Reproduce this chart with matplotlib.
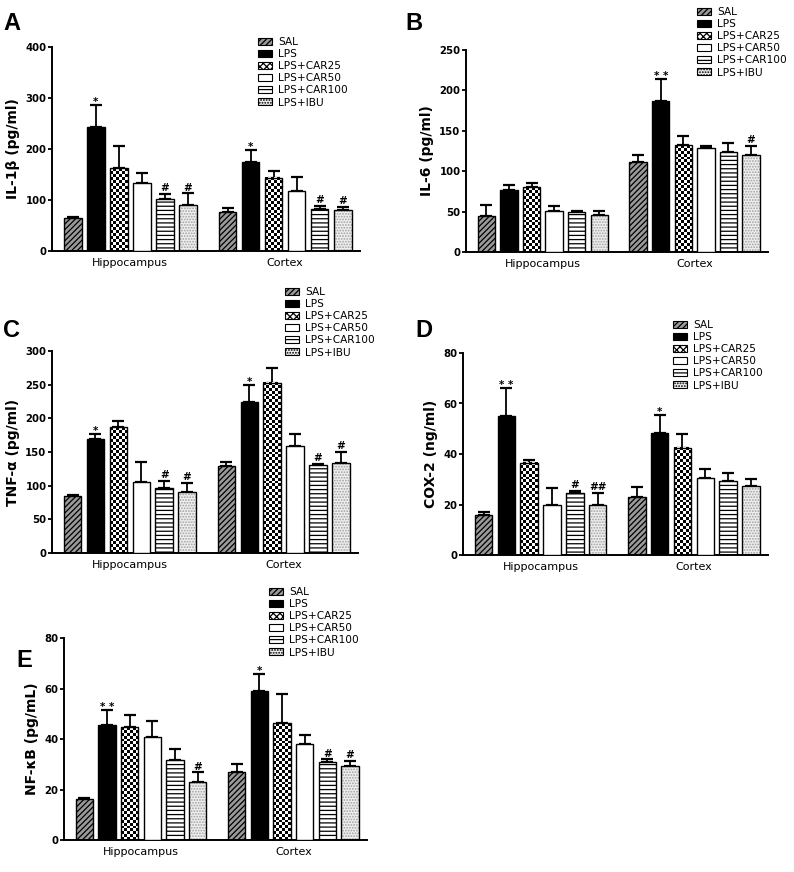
import numpy as np
import matplotlib
matplotlib.use("Agg")
import matplotlib.pyplot as plt
from matplotlib.patches import Patch

plt.rcParams['font.family'] = ['DejaVu Sans']
plt.rcParams['hatch.linewidth'] = 0.9

W, H = 794, 872

groups = ['Hippocampus', 'Cortex']
treatments = ['SAL', 'LPS', 'LPS+CAR25', 'LPS+CAR50', 'LPS+CAR100', 'LPS+IBU']

# A: IL-1beta
il1b_hip = [65, 243, 162, 133, 102, 91]
il1b_hip_err = [2, 44, 43, 19, 10, 22]
il1b_ctx = [77, 174, 144, 118, 83, 80]
il1b_ctx_err = [8, 25, 13, 27, 5, 6]
il1b_hip_sig = ['', '*', '', '', '#', '#']
il1b_ctx_sig = ['', '*', '', '', '#', '#']

# B: IL-6
il6_hip = [44, 77, 80, 51, 49, 46]
il6_hip_err = [14, 6, 6, 6, 2, 5]
il6_ctx = [111, 187, 132, 129, 124, 120]
il6_ctx_err = [9, 27, 12, 2, 11, 11]
il6_hip_sig = ['', '', '', '', '', '']
il6_ctx_sig = ['', '* *', '', '', '', '#']

# C: TNF-alpha
tnf_hip = [84, 169, 187, 106, 96, 91]
tnf_hip_err = [2, 8, 9, 29, 11, 13]
tnf_ctx = [129, 224, 253, 159, 130, 133]
tnf_ctx_err = [6, 25, 22, 18, 2, 17]
tnf_hip_sig = ['', '*', '', '', '#', '#']
tnf_ctx_sig = ['', '*', '', '', '#', '#']

# D: COX-2
cox_hip = [16, 55, 36.5, 20, 24.5, 20]
cox_hip_err = [1, 11, 1, 6.5, 1, 4.5]
cox_ctx = [23, 48.5, 42.5, 30.5, 29.5, 27.5]
cox_ctx_err = [4, 7, 5.5, 3.5, 3, 2.5]
cox_hip_sig = ['', '* *', '', '', '#', '##']
cox_ctx_sig = ['', '*', '', '', '', '']

# E: NF-kB
nfkb_hip = [16.3, 45.5, 44.7, 40.8, 31.7, 23]
nfkb_hip_err = [0.4, 6, 4.8, 6.2, 4.3, 3.8]
nfkb_ctx = [26.8, 59, 46.3, 38.2, 30.7, 29.5]
nfkb_ctx_err = [3.2, 6.7, 11.4, 3.3, 1.3, 1.8]
nfkb_hip_sig = ['', '* *', '', '', '', '#']
nfkb_ctx_sig = ['', '*', '', '', '#', '#']

styles = [
    dict(facecolor='#9a9a9a', hatch='//////', hcolor='black'),
    dict(facecolor='black', hatch=None, hcolor='black'),
    dict(facecolor='white', hatch='checker', hcolor='black'),
    dict(facecolor='white', hatch=None, hcolor='black'),
    dict(facecolor='white', hatch='----', hcolor='black'),
    dict(facecolor='#f0f0f0', hatch='......', hcolor='#a0a0a0'),
]

GROUP_OFFSET = 6.72
BAR_W = 0.765
CELL_PX = 2.9


def fig_rect(l, t, r, b):
    return [l / W, 1 - b / H, (r - l) / W, (b - t) / H]


def draw_bar(ax, x, h, st, px_per_unit, w=BAR_W):
    if st['hatch'] == 'checker':
        nrows = max(1, int(round(h * px_per_unit / CELL_PX)))
        ncols = 6
        arr = np.add.outer(np.arange(nrows), np.arange(ncols)) % 2
        ax.imshow(arr, extent=(x - w / 2, x + w / 2, 0, h), cmap='gray', vmin=0, vmax=1,
                  interpolation='nearest', aspect='auto', origin='lower', zorder=2)
        ax.bar(x, h, w, fill=False, edgecolor='black', linewidth=1.0, zorder=3)
    elif st['hatch']:
        ax.bar(x, h, w, color=st['facecolor'], edgecolor=st['hcolor'],
               hatch=st['hatch'], linewidth=0, zorder=2)
        ax.bar(x, h, w, fill=False, edgecolor='black', linewidth=1.0, zorder=3)
    else:
        ax.bar(x, h, w, color=st['facecolor'], edgecolor='black', linewidth=1.0, zorder=3)


def panel(rect, letter, letter_xy, ylabel, ymax, ystep, hip, hip_err, ctx, ctx_err,
          hip_sig, ctx_sig, leg_xy):
    ax = fig.add_axes(fig_rect(*rect))
    px_per_unit = (rect[3] - rect[1]) / ymax
    xs_hip = np.arange(len(treatments))
    xs_ctx = xs_hip + GROUP_OFFSET
    for xs, vals, errs, sigs in [(xs_hip, hip, hip_err, hip_sig), (xs_ctx, ctx, ctx_err, ctx_sig)]:
        for i, (x, v, e, s) in enumerate(zip(xs, vals, errs, sigs)):
            ax.errorbar(x, v, yerr=[[0], [e]], fmt='none', ecolor='black',
                        elinewidth=1.3, capsize=4.2, capthick=1.6, zorder=1)
            draw_bar(ax, x, v, styles[i], px_per_unit)
            if s:
                off = -1.5 if '*' in s else 0.5
                ax.annotate(s, (x, v + e), xytext=(0, off), textcoords='offset points',
                            ha='center', va='bottom', fontsize=7.5, fontweight='bold')
    ax.set_xlim(-0.9, GROUP_OFFSET + 5 + 0.75)
    ax.set_ylim(0, ymax)
    ax.set_yticks(np.arange(0, ymax + 1, ystep))
    ax.set_xticks([2.5, GROUP_OFFSET + 2.5])
    ax.set_xticklabels(groups, fontsize=8)
    ax.tick_params(axis='x', length=0, pad=5)
    ax.tick_params(axis='y', length=3, width=1.3, pad=1, labelsize=7.3)
    for lab in ax.get_yticklabels():
        lab.set_fontweight('bold')
    for sp in ['top', 'right']:
        ax.spines[sp].set_visible(False)
    for sp in ['left', 'bottom']:
        ax.spines[sp].set_linewidth(1.4)
    ax.set_ylabel(ylabel, fontsize=10, fontweight='bold', labelpad=4)
    fig.text(letter_xy[0] / W, 1 - letter_xy[1] / H, letter, fontsize=17,
             fontweight='bold', family='Liberation Sans', ha='left', va='top')
    handles = []
    for st in styles:
        if st['hatch'] == 'checker':
            handles.append(Patch(facecolor='white', edgecolor='black', hatch='xxxxx', linewidth=0.8))
        elif st['hatch']:
            handles.append(Patch(facecolor=st['facecolor'], edgecolor='black',
                                 hatch=st['hatch'], linewidth=0.8))
        else:
            handles.append(Patch(facecolor=st['facecolor'], edgecolor='black', linewidth=0.8))
    fig.legend(handles, treatments, loc='upper left',
               bbox_to_anchor=(leg_xy[0] / W, 1 - leg_xy[1] / H),
               bbox_transform=fig.transFigure, frameon=False, fontsize=7.6,
               handlelength=1.35, handleheight=0.65, handletextpad=0.55,
               labelspacing=0.2, borderpad=0, borderaxespad=0)
    return ax


fig = plt.figure(figsize=(W / 100, H / 100), dpi=100)

panel((52, 47, 360, 251), 'A', (3, 12), 'IL-1β (pg/ml)', 400, 100,
      il1b_hip, il1b_hip_err, il1b_ctx, il1b_ctx_err, il1b_hip_sig, il1b_ctx_sig, (258, 37))
panel((466, 50, 768, 252), 'B', (405, 12), 'IL-6 (pg/ml)', 250, 50,
      il6_hip, il6_hip_err, il6_ctx, il6_ctx_err, il6_hip_sig, il6_ctx_sig, (697, 7))
panel((52, 351, 358, 553), 'C', (3, 319), 'TNF-α (pg/ml)', 300, 50,
      tnf_hip, tnf_hip_err, tnf_ctx, tnf_ctx_err, tnf_hip_sig, tnf_ctx_sig, (285, 287))
panel((463, 353, 768, 555), 'D', (415, 319), 'COX-2 (ng/ml)', 80, 20,
      cox_hip, cox_hip_err, cox_ctx, cox_ctx_err, cox_hip_sig, cox_ctx_sig, (673, 320))
panel((64, 638, 367, 840), 'E', (16, 649), 'NF-κB (pg/mL)', 80, 20,
      nfkb_hip, nfkb_hip_err, nfkb_ctx, nfkb_ctx_err, nfkb_hip_sig, nfkb_ctx_sig, (269, 587))

fig.savefig('out.png', dpi=100)
